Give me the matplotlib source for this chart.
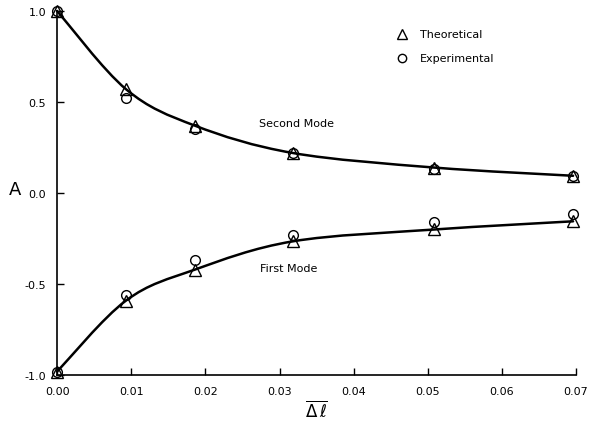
import numpy as np
import matplotlib.pyplot as plt
from matplotlib.path import Path
from matplotlib.patches import PathPatch

# Relative length change
dl = [0.0, 0.0093, 0.0186, 0.0318, 0.0509, 0.0696]

# Second mode amplitude
second_theory = [1.0, 0.57, 0.37, 0.22, 0.14, 0.095]
second_exp = [1.0, 0.52, 0.35, 0.22, 0.13, 0.095]

# First mode amplitude
first_theory = [-0.98, -0.59, -0.42, -0.265, -0.20, -0.155]
first_exp = [-0.98, -0.56, -0.37, -0.23, -0.16, -0.115]

xticks = [0.0, 0.01, 0.02, 0.03, 0.04, 0.05, 0.06, 0.07]
yticks = [-1.0, -0.5, 0.0, 0.5, 1.0]

plt.rcParams.update({
    'font.family': 'DejaVu Sans',
    'font.size': 8,
})


def smooth_path(x, y):
    """Catmull-Rom curve through the points, as cubic Bezier segments"""
    pts = np.column_stack([x, y])
    verts = [pts[0]]
    codes = [Path.MOVETO]
    n = len(pts)
    for i in range(n - 1):
        p0 = pts[i - 1] if i > 0 else pts[i]
        p1, p2 = pts[i], pts[i + 1]
        p3 = pts[i + 2] if i + 2 < n else pts[i + 1]
        c1 = p1 + (p2 - p0) / 6
        c2 = p2 - (p3 - p1) / 6
        verts += [c1, c2, p2]
        codes += [Path.CURVE4] * 3
    return Path(verts, codes)


fig = plt.figure(figsize=(5.89, 4.27), dpi=100)
ax = fig.add_axes([0.097, 0.119, 0.881, 0.853])

for th in (second_theory, first_theory):
    ax.add_patch(PathPatch(smooth_path(dl, th), fill=False, lw=1.8,
                           color='black', capstyle='round', clip_on=False))

mk = dict(ls='none', mfc='none', mec='black', mew=1.0, clip_on=False, zorder=3)
ax.plot(dl, second_theory, marker='^', ms=8, **mk)
ax.plot(dl, first_theory, marker='^', ms=8, **mk)
ax.plot(dl, second_exp, marker='o', ms=7, **mk)
ax.plot(dl, first_exp, marker='o', ms=7, **mk)

# Legend drawn as plain symbols and text
ax.plot([0.0465], [0.875], marker='^', ms=7, **mk)
ax.plot([0.0465], [0.74], marker='o', ms=6, **mk)
ax.text(0.049, 0.875, 'Theoretical', va='center', fontsize=8)
ax.text(0.049, 0.74, 'Experimental', va='center', fontsize=8)

ax.text(0.0272, 0.37, 'Second Mode', fontsize=8)
ax.text(0.0274, -0.43, 'First Mode', fontsize=8)

ax.set_xlim(0, 0.07)
ax.set_ylim(-1.0, 1.0)
ax.set_xticks(xticks)
ax.set_xticklabels([f'{v:.2f}' for v in xticks])
ax.set_yticks(yticks)
ax.set_yticklabels([f'{v:.1f}' for v in yticks])
ax.tick_params(direction='in', length=5, width=1, labelsize=8, pad=8)

for side in ('top', 'right'):
    ax.spines[side].set_visible(False)
for side in ('left', 'bottom'):
    ax.spines[side].set_linewidth(1.2)

ax.set_xlabel(r'$\overline{\Delta\,\ell}$', fontsize=12, labelpad=2)
ax.set_ylabel('A', fontsize=13, rotation=0, va='center', ha='center')
ax.yaxis.set_label_coords(-0.081, 0.51)

fig.savefig('out.png', dpi=100)
